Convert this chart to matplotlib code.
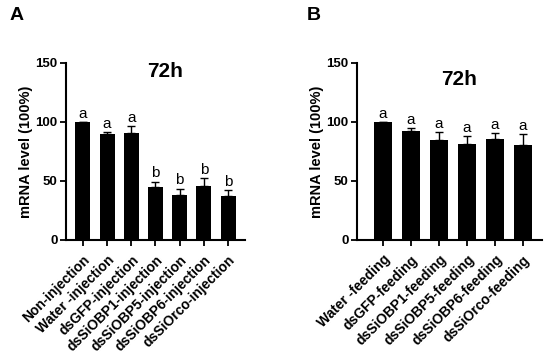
import matplotlib
matplotlib.use("Agg")
import matplotlib.pyplot as plt
import numpy as np

plt.rcParams['font.family'] = ['Liberation Sans', 'DejaVu Sans']
plt.rcParams['font.weight'] = 'bold'

cats_a = ["Non-injection", "Water -injection", "dsGFP-injection", "dsSiOBP1-injection",
          "dsSiOBP5-injection", "dsSiOBP6-injection", "dsSiOrco-injection"]
vals_a = [100, 89.5, 90.6, 44.5, 38.0, 45.6, 37.0]
errs_a = [0, 2.2, 6.0, 5.0, 5.6, 7.0, 5.0]
sig_a = ["a", "a", "a", "b", "b", "b", "b"]

cats_b = ["Water -feeding", "dsGFP-feeding", "dsSiOBP1-feeding", "dsSiOBP5-feeding",
          "dsSiOBP6-feeding", "dsSiOrco-feeding"]
vals_b = [100, 92.5, 84.5, 81.5, 85.8, 80.5]
errs_b = [0, 2.2, 7.0, 6.5, 4.5, 9.0]
sig_b = ["a", "a", "a", "a", "a", "a"]

yticks = [0, 50, 100, 150]

fig = plt.figure(figsize=(5.5, 3.54), dpi=100)
ax_a = fig.add_axes([66/550, 1-240/354, (245-66)/550, (240-63)/354])
ax_b = fig.add_axes([357/550, 1-240/354, (542-357)/550, (240-63)/354])

def draw(ax, cats, vals, errs, sig, width, xlim, title_xy):
    x = np.arange(len(cats))
    ax.bar(x, vals, width=width, color='black', zorder=2)
    ax.errorbar(x, vals, yerr=[np.zeros(len(errs)), errs], fmt='none', ecolor='black',
                elinewidth=1.0, capsize=3, capthick=1.0, zorder=1)
    for xi, v, e, s in zip(x, vals, errs, sig):
        ax.text(xi, v + e + 1.0, s, ha='center', va='bottom', fontsize=11, fontweight='normal')
    ax.set_xlim(*xlim)
    ax.set_ylim(0, 150)
    ax.set_yticks(yticks)
    ax.set_yticklabels([str(t) for t in yticks], fontsize=9.5, fontweight='bold')
    ax.set_xticks(x)
    ax.set_xticklabels(cats, rotation=45, ha='right', rotation_mode='anchor',
                       fontsize=10, fontweight='bold')
    for sp in ['top', 'right']:
        ax.spines[sp].set_visible(False)
    for sp in ['left', 'bottom']:
        ax.spines[sp].set_linewidth(1.5)
    ax.tick_params(axis='both', width=1.3, length=4)
    ax.tick_params(axis='y', pad=2)
    ax.tick_params(axis='x', pad=5)
    ax.set_ylabel("mRNA level (100%)", fontsize=10.5, fontweight='bold', labelpad=2)
    ax.text(title_xy[0], title_xy[1], "72h", ha='center', va='center', fontsize=15, fontweight='bold')

draw(ax_a, cats_a, vals_a, errs_a, sig_a, 0.62, (-0.7, 6.7), (3.4, 143))
draw(ax_b, cats_b, vals_b, errs_b, sig_b, 0.65, (-0.93, 5.68), (2.7, 136))

fig.text(10/550, 1-16/354, "A", fontsize=14, fontweight='bold', va='center', ha='left')
fig.text(307/550, 1-16/354, "B", fontsize=14, fontweight='bold', va='center', ha='left')

fig.savefig("out.png", dpi=100)
